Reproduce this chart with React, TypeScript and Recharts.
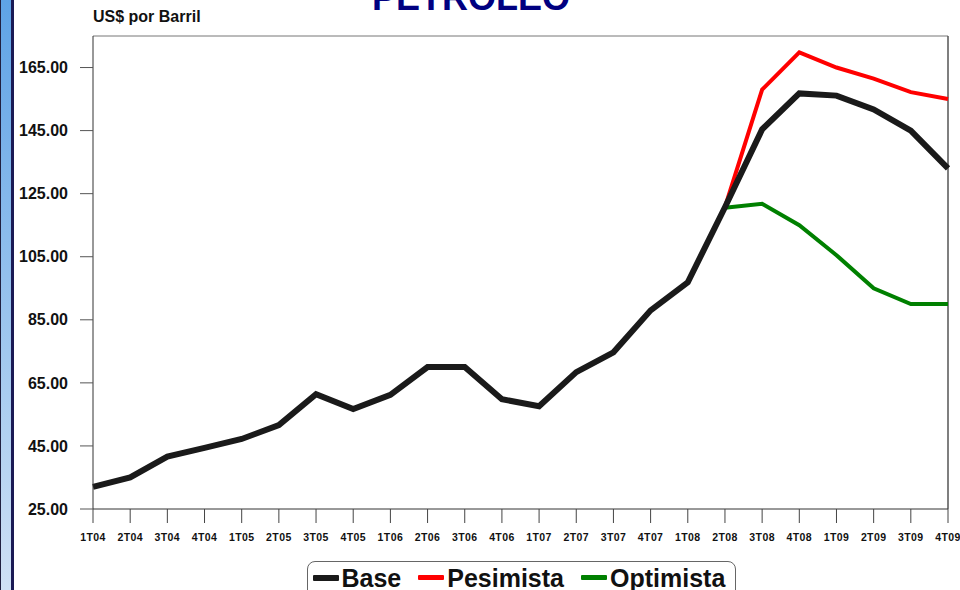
import { LineChart, Line, XAxis, YAxis, ReferenceLine } from 'recharts';

// Quarters 1T04 .. 4T09
const quarters = [
  '1T04', '2T04', '3T04', '4T04',
  '1T05', '2T05', '3T05', '4T05',
  '1T06', '2T06', '3T06', '4T06',
  '1T07', '2T07', '3T07', '4T07',
  '1T08', '2T08', '3T08', '4T08',
  '1T09', '2T09', '3T09', '4T09',
];

const base = [
  32.0, 35.0, 41.6, 44.4,
  47.2, 51.6, 61.4, 56.7,
  61.2, 70.0, 70.0, 59.8,
  57.6, 68.4, 74.7, 88.0,
  96.9, 120.7, 145.4, 156.8,
  156.1, 151.7, 145.0, 133.0,
];

// scenarios only from 2T08 on
const pesimista = [
  null, null, null, null, null, null, null, null, null, null, null, null,
  null, null, null, null, null, 120.7, 158.0, 169.8, 165.0, 161.5, 157.2, 155.0,
];

const optimista = [
  null, null, null, null, null, null, null, null, null, null, null, null,
  null, null, null, null, null, 120.5, 121.8, 115.0, 105.5, 95.0, 90.0, 90.0,
];

const yTicks = [25, 45, 65, 85, 105, 125, 145, 165];

const data = quarters.map((q, i) => ({
  q,
  base: base[i],
  pesimista: pesimista[i],
  optimista: optimista[i],
}));

const legendItems = [
  { name: 'Base', color: '#1a1a1a', h: 6 },
  { name: 'Pesimista', color: '#ff0000', h: 5 },
  { name: 'Optimista', color: '#008000', h: 5 },
];

export default function App() {
  return (
    <div style={{ position: 'fixed', top: 0, left: 0, width: 960, height: 590, overflow: 'hidden', background: '#fff', fontFamily: 'Arial, "Liberation Sans", sans-serif' }}>
      {/* blue slide border on the left */}
      <div style={{
        position: 'absolute', left: 0, top: 0, width: 14, height: 590, boxSizing: 'border-box',
        background: 'linear-gradient(to bottom, #5ea3e6, #cfe1f5)',
        borderLeft: '1.5px solid #202040', borderRight: '3px solid #1a1a55',
      }} />

      <div style={{ position: 'absolute', left: 372, top: -20, fontSize: 36, lineHeight: '36px', fontWeight: 'bold', color: '#000080' }}>
        PETROLEO
      </div>
      <div style={{ position: 'absolute', left: 93, top: 9, fontSize: 16, lineHeight: '16px', fontWeight: 'bold', color: '#111' }}>
        US$ por Barril
      </div>

      <LineChart width={960} height={590} data={data} margin={{ top: 36, right: 12, left: 0, bottom: 41 }}>
        <XAxis
          dataKey="q"
          height={40}
          interval={0}
          tickSize={14}
          tickMargin={11}
          stroke="#333"
          tickLine={{ stroke: '#444' }}
          tick={{ fontSize: 10.5, fontWeight: 'bold', fill: '#111', letterSpacing: 0.4 }}
        />
        <YAxis
          width={93}
          domain={[25, 175]}
          ticks={yTicks}
          tickSize={13}
          tickMargin={12}
          stroke="#333"
          tickLine={{ stroke: '#555' }}
          tickFormatter={(v) => v.toFixed(2)}
          tick={{ fontSize: 16, fontWeight: 'bold', fill: '#111' }}
        />
        {/* frame top and right */}
        <ReferenceLine y={175} stroke="#777" strokeWidth={1} />
        <ReferenceLine x="4T09" stroke="#555" strokeWidth={1.5} />
        <Line dataKey="pesimista" stroke="#ff0000" strokeWidth={4} dot={false} isAnimationActive={false} />
        <Line dataKey="optimista" stroke="#008000" strokeWidth={4} dot={false} isAnimationActive={false} />
        <Line dataKey="base" stroke="#1a1a1a" strokeWidth={6} dot={false} isAnimationActive={false} />
      </LineChart>

      {/* legend box, cut by the bottom of the picture */}
      <div style={{
        position: 'absolute', left: 307, top: 561, width: 429, height: 40, boxSizing: 'border-box',
        border: '1.5px solid #666', borderRadius: 8,
      }}>
        <div style={{ display: 'flex', alignItems: 'center', height: 31, paddingLeft: 4.5 }}>
          {legendItems.map((it) => (
            <div key={it.name} style={{ display: 'flex', alignItems: 'center', marginRight: 17 }}>
              <div style={{ width: 26, height: it.h, background: it.color, borderRadius: 1 }} />
              <span style={{ marginLeft: 3, fontSize: 25, lineHeight: '22px', fontWeight: 'bold', color: '#111' }}>{it.name}</span>
            </div>
          ))}
        </div>
      </div>
    </div>
  );
}
